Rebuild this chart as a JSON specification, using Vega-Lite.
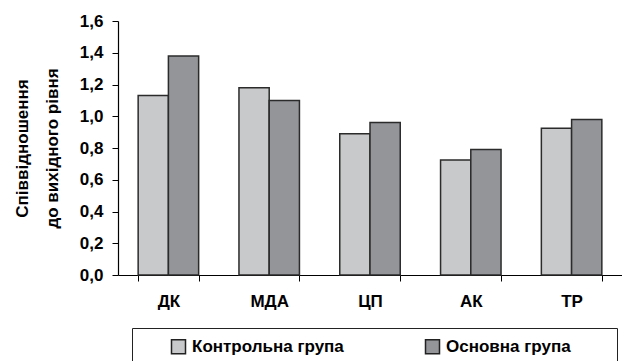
{
  "$schema": "https://vega.github.io/schema/vega-lite/v6.json",
  "width": 504,
  "height": 254,
  "autosize": "none",
  "padding": {"left": 118, "top": 21, "right": 0, "bottom": 86},
  "background": "white",
  "config": {
    "font": "Liberation Sans",
    "view": {"stroke": null}
  },
  "data": {
    "values": [
      {"cat": "ДК", "group": "Контрольна група", "value": 1.13},
      {"cat": "ДК", "group": "Основна група", "value": 1.38},
      {"cat": "МДА", "group": "Контрольна група", "value": 1.18},
      {"cat": "МДА", "group": "Основна група", "value": 1.10},
      {"cat": "ЦП", "group": "Контрольна група", "value": 0.89},
      {"cat": "ЦП", "group": "Основна група", "value": 0.96},
      {"cat": "АК", "group": "Контрольна група", "value": 0.725},
      {"cat": "АК", "group": "Основна група", "value": 0.79},
      {"cat": "ТР", "group": "Контрольна група", "value": 0.925},
      {"cat": "ТР", "group": "Основна група", "value": 0.98}
    ]
  },
  "mark": {"type": "bar", "stroke": "#2b2b2b", "strokeWidth": 1.5},
  "encoding": {
    "x": {
      "field": "cat", "type": "nominal", "sort": null,
      "scale": {"paddingInner": 0.4, "paddingOuter": 0.2},
      "axis": {
        "title": null, "labelAngle": 0, "labelFont": "Liberation Sans",
        "labelFontWeight": "bold", "labelFontSize": 17, "labelColor": "black",
        "labelPadding": 12, "tickBand": "extent", "tickSize": 6, "tickColor": "black",
        "domainColor": "black", "domainWidth": 1.2, "tickWidth": 1
      }
    },
    "xOffset": {"field": "group", "type": "nominal", "scale": {"paddingInner": 0, "paddingOuter": 0}},
    "y": {
      "field": "value", "type": "quantitative",
      "scale": {"domain": [0, 1.6], "nice": false},
      "axis": {
        "title": ["Співвідношення", "до вихідного рівня"],
        "titleFont": "Liberation Sans", "titleFontWeight": "bold", "titleFontSize": 17,
        "titleColor": "black", "titlePadding": 18, "titleLineHeight": 30,
        "values": [0, 0.2, 0.4, 0.6, 0.8, 1.0, 1.2, 1.4, 1.6],
        "labelExpr": "replace(format(datum.value, '.1f'), '.', ',')",
        "labelFont": "Liberation Sans", "labelFontWeight": "bold", "labelFontSize": 17,
        "labelColor": "black", "labelPadding": 9,
        "tickSize": 6, "tickColor": "black", "domainColor": "black", "domainWidth": 1.2,
        "grid": false
      }
    },
    "fill": {
      "field": "group", "type": "nominal",
      "scale": {"domain": ["Контрольна група", "Основна група"], "range": ["#c8c9cb", "#939598"]},
      "legend": {
        "title": " ", "titleOrient": "left", "titlePadding": 28, "titleFontSize": 10,
        "orient": "none", "legendX": 14, "legendY": 307, "direction": "horizontal",
        "strokeColor": "#222", "padding": 10, "columnPadding": 78,
        "symbolType": "square", "symbolSize": 196, "symbolStrokeColor": "#222", "symbolStrokeWidth": 1.5,
        "labelFont": "Liberation Sans", "labelFontWeight": "bold", "labelFontSize": 17,
        "labelColor": "black", "labelOffset": 5, "labelLimit": 300,
        "labelExpr": "datum.value == 'Основна група' ? datum.label + '\u2800\u2800\u2800' : datum.label"
      }
    }
  }
}
